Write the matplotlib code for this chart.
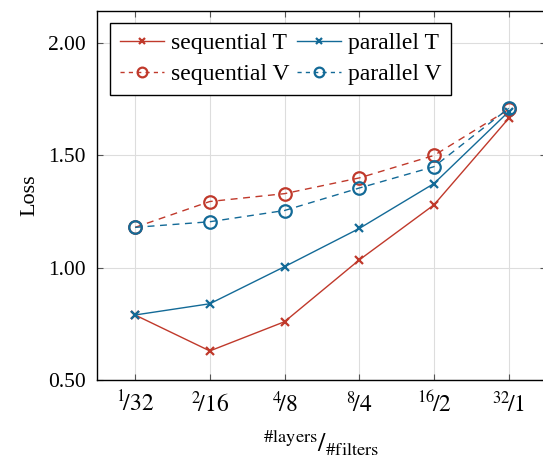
import matplotlib
matplotlib.use("Agg")
import matplotlib.pyplot as plt
from matplotlib.lines import Line2D

plt.rcParams["font.family"] = ["Liberation Serif", "DejaVu Serif"]
plt.rcParams["mathtext.fontset"] = "stix"

configs = ["1/32", "2/16", "4/8", "8/4", "16/2", "32/1"]
seq_T = [0.79, 0.63, 0.76, 1.035, 1.28, 1.665]
par_T = [0.79, 0.84, 1.005, 1.175, 1.375, 1.695]
seq_V = [1.18, 1.295, 1.33, 1.40, 1.50, 1.705]
par_V = [1.18, 1.205, 1.255, 1.355, 1.45, 1.71]
yticks = [0.5, 1.0, 1.5, 2.0]

red = "#c0392b"
blue = "#136a97"

fig = plt.figure(figsize=(5.43, 4.58), dpi=100)
ax = fig.add_axes([0.1786, 0.170, 0.827, 0.806])

x = list(range(len(configs)))
ax.plot(x, seq_T, color=red, lw=1, marker="x", ms=6, mew=1.6, label="sequential T")
ax.plot(x, par_T, color=blue, lw=1, marker="x", ms=6, mew=1.6, label="parallel T")
ax.plot(x, seq_V, color=red, lw=1, ls=(0, (5, 4)), marker="o", ms=9, mew=1.6,
        mfc="none", label="sequential V")
ax.plot(x, par_V, color=blue, lw=1, ls=(0, (5, 4)), marker="o", ms=9, mew=1.6,
        mfc="none", label="parallel V")

ax.set_xlim(-0.51, 5.5)
ax.set_ylim(0.5, 2.143)
ax.set_yticks(yticks)
ax.set_yticklabels(["%.2f" % v for v in yticks], fontsize=15.5)
ax.set_xticks(x)
labels = []
for c in configs:
    a, b = c.split("/")
    labels.append(r"$^{%s}\!/%s$" % (a, b))
ax.set_xticklabels(labels, fontsize=17)
ax.grid(True, color="#dddddd", lw=0.8)
ax.set_axisbelow(True)
ax.tick_params(direction="in", length=4, width=0.8, color="#555555",
               top=True, right=True, pad=8)
for s in ax.spines.values():
    s.set_linewidth(1.0)

ax.set_ylabel("Loss", fontsize=16, labelpad=6)
ax.set_xlabel(r"$^{\#\mathrm{layers}}/_{\#\mathrm{filters}}$", fontsize=19, labelpad=8)

handles = [
    Line2D([], [], color=red, lw=1, marker="x", ms=5, mew=1.6),
    Line2D([], [], color=blue, lw=1, marker="x", ms=5, mew=1.6),
    Line2D([], [], color=red, lw=1, ls=(0, (3, 3)), marker="o", ms=7, mew=1.6, mfc="none"),
    Line2D([], [], color=blue, lw=1, ls=(0, (3, 3)), marker="o", ms=7, mew=1.6, mfc="none"),
]
names = ["sequential T", "parallel T", "sequential V", "parallel V"]
leg = ax.legend([handles[0], handles[2], handles[1], handles[3]],
                [names[0], names[2], names[1], names[3]],
                ncol=2, loc="upper left", bbox_to_anchor=(0.03, 0.968),
                fontsize=17, frameon=True, fancybox=False, edgecolor="black",
                framealpha=1, handlelength=1.85, handletextpad=0.3,
                columnspacing=0.33, labelspacing=0.42, borderpad=0.4,
                borderaxespad=0)
leg.get_frame().set_linewidth(1.0)

fig.savefig("out.png", dpi=100)
